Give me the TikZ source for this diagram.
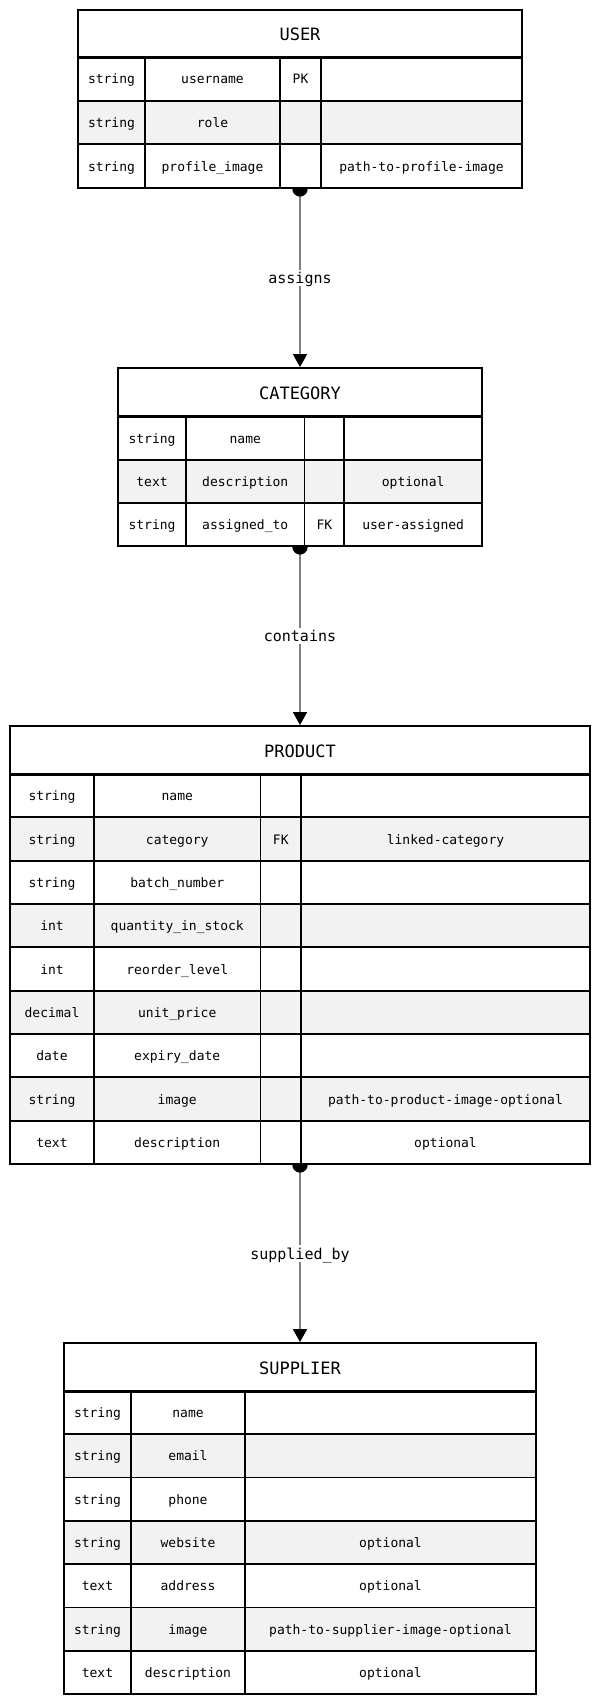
\documentclass[tikz,border=0pt]{standalone}
\usepackage{fontspec}
\setmonofont{DejaVu Sans Mono}
\usetikzlibrary{arrows.meta,backgrounds}
\definecolor{rowgray}{RGB}{242,242,242}
\definecolor{conngray}{RGB}{128,128,128}
\tikzset{
  cell/.style={inner sep=0pt, font=\ttfamily\fontsize{13}{15}\selectfont, text height=12pt, text depth=2pt, anchor=center},
  tabtitle/.style={inner sep=0pt, font=\ttfamily\fontsize{17}{20}\selectfont, text height=15pt, text depth=0.6pt, anchor=center},
  frame/.style={draw=black, line width=1.8pt, rectangle, inner sep=0pt},
  grid/.style={draw=black, line width=1.8pt},
  headsep/.style={draw=black, line width=3pt},
  conn/.style={draw=conngray, line width=1.5pt, -{Triangle[width=14pt,length=13pt,color=black]}},
  lbl/.style={fill=white, text=black, font=\ttfamily\fontsize{15}{18}\selectfont, inner xsep=2pt, inner ysep=1pt, text height=13pt, text depth=1.8pt},
  dot/.style={fill=black}
}
\newcommand\errow[7]{%
  \pgfmathsetmacro\yA{\tabHead+(#2-1)*\rowH}%
  \pgfmathsetmacro\yB{\yA+\rowH}%
  \pgfmathsetmacro\yM{\yA+\rowH/2}%
  \fill[#3] (\cxA,\yA) rectangle (\cxE,\yB);
  \node[cell] (#1-#2-1) at ({(\cxA+\cxB)/2},\yM) {#4};
  \node[cell] (#1-#2-2) at ({(\cxB+\cxC)/2},\yM) {#5};
  \node[cell] (#1-#2-3) at ({(\cxC+\cxD)/2},\yM) {#6};
  \node[cell] (#1-#2-4) at ({(\cxD+\cxE)/2},\yM) {#7};
}
\newcommand\errowthree[6]{%
  \pgfmathsetmacro\yA{\tabHead+(#2-1)*\rowH}%
  \pgfmathsetmacro\yB{\yA+\rowH}%
  \pgfmathsetmacro\yM{\yA+\rowH/2}%
  \fill[#3] (\cxA,\yA) rectangle (\cxE,\yB);
  \node[cell] (#1-#2-1) at ({(\cxA+\cxB)/2},\yM) {#4};
  \node[cell] (#1-#2-2) at ({(\cxB+\cxC)/2},\yM) {#5};
  \node[cell] (#1-#2-3) at ({(\cxC+\cxE)/2},\yM) {#6};
}
\newcommand\ergrid[1]{%
  \pgfmathsetmacro\yEnd{\tabHead+#1*\rowH}%
  \foreach \k in {1,...,#1} {\pgfmathsetmacro\yk{\tabHead+\k*\rowH}\draw[grid] (\cxA,\yk) -- (\cxE,\yk);}
  \foreach \xx in \cxlist {\draw[grid] (\xx,\tabHead) -- (\xx,\yEnd);}
  \draw[headsep] (\cxA,\tabHead) -- (\cxE,\tabHead);
}
\begin{document}
\begin{tikzpicture}[x=1pt,y=-1pt]
\useasboundingbox (0,0) rectangle (600,1705);

% ---------- USER ----------
\def\cxA{78}\def\cxB{145}\def\cxC{280}\def\cxD{321}\def\cxE{522}
\def\cxlist{145,280,321}
\def\tabTop{10}\def\tabHead{57}\def\rowH{43.667}
\fill[white] (\cxA,\tabTop) rectangle (\cxE,\tabHead);
\node[tabtitle] (user-title) at (300,33.5) {USER};
\errow{user}{1}{white}{string}{username}{PK}{}
\errow{user}{2}{rowgray}{string}{role}{}{}
\errow{user}{3}{white}{string}{profile\_image}{}{path-to-profile-image}
\ergrid{3}
\node[frame, minimum width=444pt, minimum height=178pt] (user) at (300,99) {};

% ---------- CATEGORY ----------
\def\cxA{118}\def\cxB{186}\def\cxC{304.5}\def\cxD{344.3}\def\cxE{482}
\def\cxlist{186,304.5,344.3}
\def\tabTop{368}\def\tabHead{416.5}\def\rowH{43.167}
\fill[white] (\cxA,\tabTop) rectangle (\cxE,\tabHead);
\node[tabtitle] (category-title) at (300,392.25) {CATEGORY};
\errow{category}{1}{white}{string}{name}{}{}
\errow{category}{2}{rowgray}{text}{description}{}{optional}
\errow{category}{3}{white}{string}{assigned\_to}{FK}{user-assigned}
\ergrid{3}
\node[frame, minimum width=364pt, minimum height=178pt] (category) at (300,457) {};

% ---------- PRODUCT ----------
\def\cxA{10}\def\cxB{94}\def\cxC{260.5}\def\cxD{301}\def\cxE{590}
\def\cxlist{94,260.5,301}
\def\tabTop{726}\def\tabHead{774}\def\rowH{43.333}
\fill[white] (\cxA,\tabTop) rectangle (\cxE,\tabHead);
\node[tabtitle] (product-title) at (300,750) {PRODUCT};
\errow{product}{1}{white}{string}{name}{}{}
\errow{product}{2}{rowgray}{string}{category}{FK}{linked-category}
\errow{product}{3}{white}{string}{batch\_number}{}{}
\errow{product}{4}{rowgray}{int}{quantity\_in\_stock}{}{}
\errow{product}{5}{white}{int}{reorder\_level}{}{}
\errow{product}{6}{rowgray}{decimal}{unit\_price}{}{}
\errow{product}{7}{white}{date}{expiry\_date}{}{}
\errow{product}{8}{rowgray}{string}{image}{}{path-to-product-image-optional}
\errow{product}{9}{white}{text}{description}{}{optional}
\ergrid{9}
\node[frame, minimum width=580pt, minimum height=438pt] (product) at (300,945) {};

% ---------- SUPPLIER ----------
\def\cxA{64}\def\cxB{131}\def\cxC{245}\def\cxE{536}
\def\cxlist{131,245}
\def\tabTop{1343}\def\tabHead{1391}\def\rowH{43.286}
\fill[white] (\cxA,\tabTop) rectangle (\cxE,\tabHead);
\node[tabtitle] (supplier-title) at (300,1367) {SUPPLIER};
\errowthree{supplier}{1}{white}{string}{name}{}
\errowthree{supplier}{2}{rowgray}{string}{email}{}
\errowthree{supplier}{3}{white}{string}{phone}{}
\errowthree{supplier}{4}{rowgray}{string}{website}{optional}
\errowthree{supplier}{5}{white}{text}{address}{optional}
\errowthree{supplier}{6}{rowgray}{string}{image}{path-to-supplier-image-optional}
\errowthree{supplier}{7}{white}{text}{description}{optional}
\ergrid{7}
\node[frame, minimum width=472pt, minimum height=351pt] (supplier) at (300,1518.5) {};

% ---------- connectors ----------
\begin{pgfonlayer}{background}
\draw[conn] (user.south) -- (category.north) node[midway,lbl] (lbl-assigns) {assigns};
\fill[dot] (user.south) circle[radius=7.7pt];
\draw[conn] (category.south) -- (product.north) node[midway,lbl] (lbl-contains) {contains};
\fill[dot] (category.south) circle[radius=7.7pt];
\draw[conn] (product.south) -- (supplier.north) node[midway,lbl] (lbl-supplied) {supplied\_by};
\fill[dot] (product.south) circle[radius=7.7pt];
\end{pgfonlayer}
\end{tikzpicture}
\end{document}
